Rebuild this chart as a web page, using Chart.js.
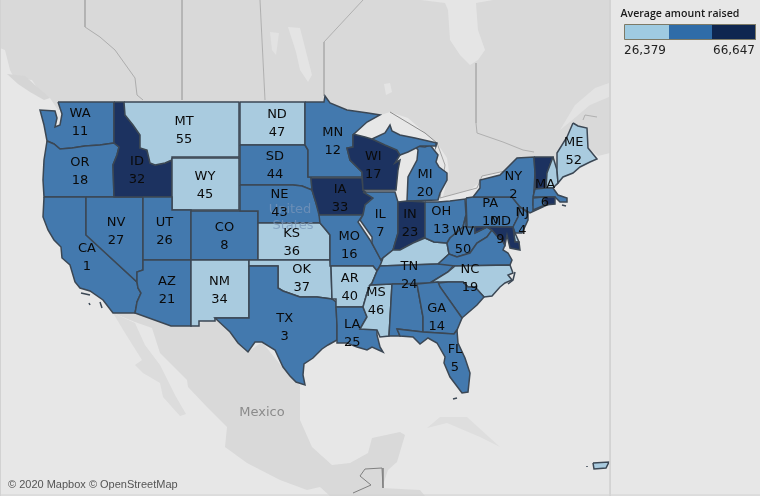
<!DOCTYPE html>
<html>
<head>
<meta charset="utf-8">
<style>
  html, body { margin: 0; padding: 0; background: #e7e7e7; }
  #myChart { display: block; }
</style>
<script src="https://cdn.jsdelivr.net/npm/chart.js@4/dist/chart.umd.js"></script>
</head>
<body>
<canvas id="myChart" width="760" height="496"></canvas>
<script>
// legend values
const legendTitle = 'Average amount raised';
const legendLow = '26,379';
const legendHigh = '66,647';

// state table: code, rank shown on the map, colour band (0 light, 1 mid, 2 dark)
const stateCodes = ['WA','OR','CA','NV','ID','MT','WY','UT','AZ','CO','NM','ND','SD','NE','KS','OK','TX','MN','IA','MO','AR','LA','WI','IL','MS','MI','IN','KY','TN','AL','OH','WV','VA','NC','SC','GA','FL','PA','NY','VT','NH','ME','MA','CT','RI','NJ','DE','MD','PR'];
const stateRanks = [11,18,1,27,32,55,45,26,21,8,34,47,44,43,36,37,3,12,33,16,40,25,17,7,46,20,23,null,24,null,13,50,null,19,null,14,5,10,2,null,null,52,6,null,null,4,null,9,null];
const stateBands = [1,1,1,1,2,0,0,1,1,1,0,0,1,1,0,0,1,1,2,1,0,1,2,1,0,1,2,0,1,1,1,1,1,0,1,1,1,1,1,2,0,0,1,1,2,1,0,2,0];

// outlines, x,y pairs in map units (0-760, 0-496)
const WA = [58,102,114,102,114,143,100,145,85,146,72,148,60,149,54,144,47,141,44,125,40,110,55,111,57,118,55,127,60,125,62,114,60,108];
const OR = [47,141,54,144,60,149,72,148,85,146,100,145,114,143,119,147,117,155,113,165,114,197,44,197,43,180,44,160];
const CA = [44,197,86,197,86,235,137,282,138,288,141,293,137,302,136,308,135,313,113,313,103,300,90,291,80,288,75,282,70,265,62,258,61,247,54,240,48,230,43,217];
const NV = [86,197,143,197,143,270,137,272,137,282,86,235];
const ID = [114,102,124,102,125,115,133,125,140,135,140,148,147,150,150,163,155,165,165,163,172,160,172,197,114,197,113,165,117,155,119,147,114,143];
const MT = [124,102,239,102,239,157,172,157,172,160,165,163,155,165,150,163,147,150,140,148,140,135,133,125,125,115];
const WY = [172,158,239,158,239,210,172,210];
const UT = [143,197,172,197,172,210,191,210,191,260,143,260];
const AZ = [143,260,191,260,191,326,171,326,135,313,136,308,137,302,141,293,138,288,137,282,137,272,143,270];
const CO = [191,211,258,211,258,260,191,260];
const NM = [191,260,249,260,249,318,215,318,215,321,199,321,199,326,191,326];
const ND = [240,102,305,102,305,145,240,145];
const SD = [240,145,305,145,308,150,308,177,311,177,312,190,302,186,293,185,240,185];
const NE = [240,185,293,185,302,186,312,190,316,203,320,215,320,223,258,223,258,211,240,211];
const KS = [258,223,320,223,326,230,330,235,330,260,258,260];
const OK = [249,260,330,260,331,266,332,299,317,297,300,297,283,291,278,288,278,266,249,266];
const TX = [249,266,278,266,278,288,283,291,300,297,317,297,332,299,336,302,337,325,337,340,328,345,322,349,313,358,304,364,303,375,305,385,296,382,290,376,283,367,275,350,262,342,255,342,248,352,238,343,230,332,215,318,249,318];
const MN = [305,102,324,102,325,96,330,103,347,110,368,113,380,115,367,122,355,133,353,135,353,147,347,148,350,160,362,172,362,177,311,177,308,177,308,150,305,145];
const IA = [311,178,362,178,363,190,373,198,365,205,363,215,319,215,316,203,312,190];
const MO = [319,215,363,215,358,222,370,240,380,258,382,262,380,266,377,271,373,266,330,266,330,235,326,230,320,223];
const AR = [331,266,373,266,377,271,372,283,367,293,363,307,336,307,336,299,332,299];
const LA = [336,307,363,307,367,317,360,329,377,329,377,335,380,347,383,352,372,347,367,350,357,347,347,343,337,343,337,325];
const WI = [353,134,365,137,375,140,385,145,397,150,400,155,395,163,400,160,398,170,396,190,363,190,362,172,350,160,347,148,353,147];
const IL = [363,192,395,192,398,202,398,233,393,250,383,258,382,262,372,243,372,237,360,220,363,215,365,205,373,198];
const MS = [370,285,392,284,389,336,380,337,377,330,360,329,367,317,363,307,367,293];
const MI_UP = [372,139,385,133,390,125,392,131,400,135,415,138,437,143,436,146,420,146,408,152,400,155,397,150,385,145];
const MI = [415,146,425,147,430,145,438,155,436,162,439,167,447,173,447,180,440,193,438,200,407,201,408,177,417,160,418,150];
const IN = [398,202,407,201,425,202,425,237,413,243,400,250,393,250,398,233];
const KY = [380,266,383,258,393,250,400,250,413,243,425,238,434,242,447,243,449,254,438,264];
const TN = [380,266,438,264,455,264,448,272,430,283,392,284,370,285,372,283,377,271];
const AL = [392,284,417,284,423,317,423,332,397,329,400,336,389,336];
const OH = [425,202,438,202,450,201,465,199,466,215,463,227,450,238,447,243,434,242,425,238];
const WV = [466,215,466,226,475,227,475,233,487,227,492,230,487,237,477,243,470,253,457,257,449,254,447,243,450,238,463,227];
const VA = [438,264,449,254,457,257,470,253,477,243,487,237,492,230,497,236,502,240,505,245,503,250,508,253,512,260,510,265,455,266];
const NC = [430,283,448,272,455,266,510,265,513,273,508,275,512,280,505,283,500,287,492,296,484,297,475,287,468,287,463,282,448,282,438,282];
const SC = [438,283,448,282,463,282,468,287,475,287,484,297,477,305,462,318,440,287];
const GA = [417,284,438,282,440,287,462,318,457,330,454,334,423,332,423,317];
const FL = [397,329,423,332,454,334,457,330,458,343,465,358,470,373,468,392,462,393,450,377,444,363,445,357,437,343,428,338,420,344,413,337,400,336];
const PA = [466,198,473,197,512,197,520,207,518,217,513,227,467,227];
const NY = [473,197,480,188,480,180,500,175,517,158,534,157,535,173,534,190,533,205,540,207,545,206,530,213,525,210,520,207,512,197];
const VT = [534,157,553,157,547,173,546,188,535,189,535,173];
const NH = [553,157,557,170,558,183,553,188,546,188,547,173];
const ME = [573,123,578,126,587,128,588,148,597,159,590,162,580,167,573,173,563,177,558,183,557,170,557,153,567,137];
const MA = [535,189,546,188,553,188,558,195,567,198,567,202,560,202,555,197,533,197];
const CT = [533,198,544,197,545,205,533,210];
const RI = [544,197,555,197,555,204,545,205];
const NJ = [520,207,528,213,528,220,522,233,515,233,513,227,518,217];
const DE = [513,228,515,233,519,242,515,242];
const MD = [475,227,513,227,515,242,519,242,520,250,510,248,507,235,505,245,502,240,497,236,492,230,487,227,475,233];
const PR = [593,463,609,462,606,468,594,469];
const stateOutlines = [WA,OR,CA,NV,ID,MT,WY,UT,AZ,CO,NM,ND,SD,NE,KS,OK,TX,MN,IA,MO,AR,LA,WI,IL,MS,MI,IN,KY,TN,AL,OH,WV,VA,NC,SC,GA,FL,PA,NY,VT,NH,ME,MA,CT,RI,NJ,DE,MD,PR];

// where each state's two line label sits, same units, same order as stateCodes
const labelX = [80,80,87,116,137,184,205,164.5,167,224.5,219.5,277,275,279.5,291.7,301.7,284.7,332.7,340,349.3,349.7,352.3,373.3,380.3,376,425,410,0,409.3,0,441.3,463,0,470,0,436.7,455,490.3,513.3,0,0,573.7,545,0,0,522.3,0,500.5,0];
const labelY = [123,171.5,257.7,232,170.5,130.5,185.5,232,290.5,236.5,290.5,123.5,165.7,204,242.5,278.7,327.3,141.5,198.7,245.5,287.5,334,165.7,223.3,302,184,223.3,0,275.7,0,220.3,240.7,0,278.7,0,317.7,358.7,212.7,185.7,0,0,151.3,193.3,0,0,221.5,0,231,0];

// land under the states
const canada = [0,0,610,0,610,153,598,156,588,148,560,180,534,157,517,158,505,171,482,176,480,182,470,190,455,194,443,197,449,172,447,158,437,143,425,133,408,118,390,112,375,117,352,135,325,110,58,110,50,98,40,92,32,80,14,78,10,70,5,50,0,48];
const vancouverIsland = [7,74,25,76,35,85,50,98,44,100,30,92,18,84];
const mexico = [113,313,135,322,152,328,160,353,187,380,188,387,207,407,227,427,225,447,247,463,280,480,307,490,320,487,330,496,425,496,420,490,382,488,388,470,397,462,405,435,400,432,372,438,368,453,350,463,332,465,312,447,300,420,300,385,283,368,262,342,248,352,215,318,191,326,171,326,135,313];
const baja = [113,313,135,323,145,345,160,365,175,395,186,414,180,416,163,397,160,383,143,373,135,365,142,360,125,333];
const cuba = [427,428,440,417,467,417,500,447,480,437,447,423];
const jamesBay = [421,0,493,0,476,3,478,30,485,50,478,60,470,65,460,55,450,40,448,10,445,3];
const lakeWinnipeg = [288,27,300,28,312,75,308,82,300,70,296,52];
const lakeManitoba = [270,32,279,33,276,55,272,50];
const lakeNipigon = [384,84,390,83,392,92,386,95];
const stLawrence = [560,130,575,105,595,88,609,83,609,97,590,105,570,122];

// thin boundary lines
const bcAlberta = [85,0,85,27,100,37,115,50,135,78,137,95,143,100];
const albertaSask = [182,0,182,100];
const sasManitoba = [260,0,265,100];
const manitobaOntario = [363,0,324,42,324,96];
const ontarioQuebec = [476,63,476,123,477,133,503,142,523,150,534,152];
const superiorBorder = [390,112,425,133,437,143];
const quebecMaine = [583,120,585,115,597,117];
const huronBorder = [437,143,445,165,440,198,477,188,482,176,505,171];
const guatemala = [382,468,365,469,360,476,371,485,353,493];
const belize = [382,468,383,488];

// small islands and bits of broken coast
const channelIslandA = [81,293,90,295];
const channelIslandB = [89,303,90,305];
const channelIslandC = [100,302,102,308];
const floridaKeys = [453,399,457,398];
const outerBanks = [515,272,513,280,508,284];
const nantucket = [562,205,566,206];
const puertoRicoCay = [587,466,587,467];

const panelLine = [610,0,610,496];
const frameLeft = [0.5,0,0.5,496];
const frameBottom = [0,495,760,495];

// legend blocks
const legendLight = [624.5,24.5,669,24.5,669,39.5,624.5,39.5];
const legendMid = [669,24.5,712,24.5,712,39.5,669,39.5];
const legendDark = [712,24.5,755.5,24.5,755.5,39.5,712,39.5];

const bandColors = ['#a9cbdf', '#4379ae', '#1c3260'];
const borderColor = '#3b4754';

function toPoints(flat) {
    const pts = [];
    for (let i = 0; i < flat.length; i += 2) {
        pts.push({ x: flat[i], y: flat[i + 1] });
    }
    return pts;
}

function area(flat, fill) {
    return {
        data: toPoints(flat.concat(flat.slice(0, 2))),
        showLine: true, pointRadius: 0, borderWidth: 0,
        borderColor: 'transparent', polygonFill: fill
    };
}

function line(flat, color, width) {
    return {
        data: toPoints(flat),
        showLine: true, pointRadius: 0, borderWidth: width || 1, borderColor: color
    };
}

// painted first to last
const layers = [
    area(canada, '#d9d9d9'),
    area(vancouverIsland, '#d5d5d5'),
    area(mexico, '#d9d9d9'),
    area(baja, '#dcdcdc'),
    area(cuba, '#dedede'),
    area(jamesBay, '#e5e5e5'),
    area(lakeWinnipeg, '#e4e4e4'),
    area(lakeManitoba, '#e2e2e2'),
    area(lakeNipigon, '#e4e4e4'),
    area(stLawrence, '#e3e3e3'),
    line(bcAlberta, '#adadad'),
    line(albertaSask, '#b0b0b0'),
    line(sasManitoba, '#b0b0b0'),
    line(manitobaOntario, '#b0b0b0'),
    line(ontarioQuebec, '#b0b0b0'),
    line(superiorBorder, '#8c8c8c'),
    line(quebecMaine, '#b0b0b0'),
    line(huronBorder, '#a4a4a4'),
    line(guatemala, '#808080'),
    line(belize, '#808080')
];

[channelIslandA, channelIslandB, channelIslandC, floridaKeys, outerBanks, nantucket, puertoRicoCay].forEach(bit => {
    layers.push(line(bit, borderColor, 1.5));
});

stateOutlines.forEach((outline, i) => {
    const ds = area(outline, bandColors[stateBands[i]]);
    ds.borderColor = borderColor;
    ds.borderWidth = 1.5;
    layers.push(ds);
    if (stateCodes[i] === 'MI') {
        const up = area(MI_UP, bandColors[1]);
        up.borderColor = borderColor;
        up.borderWidth = 1.5;
        layers.push(up);
    }
});

layers.push(area(legendLight, '#9fcbe1'), area(legendMid, '#2f6ca8'), area(legendDark, '#0f2650'));
layers.push(line([624.5,24.5,755.5,24.5,755.5,39.5,624.5,39.5,624.5,24.5], '#7d7a66'));
layers.push(line(panelLine, '#d2d2d2'), line(frameLeft, '#d2d2d2'), line(frameBottom, '#d2d2d2'));

// chart.js draws the first dataset on top, so hand them over reversed
const datasets = layers.slice().reverse();

// fills each closed outline using the points the scales placed
const polygonFillPlugin = {
    id: 'polygonFill',
    beforeDatasetDraw(chart, args) {
        const fill = chart.data.datasets[args.index].polygonFill;
        if (!fill) return;
        const ctx = chart.ctx;
        const pts = args.meta.data;
        ctx.save();
        ctx.beginPath();
        pts.forEach((p, i) => { if (i) ctx.lineTo(p.x, p.y); else ctx.moveTo(p.x, p.y); });
        ctx.closePath();
        ctx.fillStyle = fill;
        ctx.fill();
        ctx.restore();
    }
};

// all the text on the map
const mapTextPlugin = {
    id: 'mapText',
    afterDatasetsDraw(chart) {
        const ctx = chart.ctx;
        const sx = chart.scales.x;
        const sy = chart.scales.y;
        const put = (text, x, y, font, color, align) => {
            ctx.font = font;
            ctx.fillStyle = color;
            ctx.textAlign = align || 'center';
            ctx.textBaseline = 'middle';
            ctx.fillText(text, sx.getPixelForValue(x), sy.getPixelForValue(y));
        };
        ctx.save();
        put('United', 290, 210, '13px "DejaVu Sans"', 'rgba(120,150,185,0.75)');
        put('States', 293, 226, '13px "DejaVu Sans"', 'rgba(120,150,185,0.75)');
        put('Mexico', 262, 413, '13px "DejaVu Sans"', '#8b8b8b');
        stateCodes.forEach((code, i) => {
            if (stateRanks[i] === null) return;
            put(code, labelX[i], labelY[i] - 9, '13px "DejaVu Sans"', '#0a0a0a');
            put(String(stateRanks[i]), labelX[i], labelY[i] + 9, '13px "DejaVu Sans"', '#0a0a0a');
        });
        put('\u00a9 2020 Mapbox \u00a9 OpenStreetMap', 8, 485, '11px "Liberation Sans"', '#555555', 'left');
        put(legendTitle, 620.5, 14, '600 10.6px "Open Sans"', '#1a1a1a', 'left');
        put(legendLow, 624, 51, '12px "DejaVu Sans"', '#222222', 'left');
        put(legendHigh, 755, 51, '12px "DejaVu Sans"', '#222222', 'right');
        ctx.restore();
    }
};

new Chart(document.getElementById('myChart').getContext('2d'), {
    type: 'scatter',
    data: { datasets },
    plugins: [polygonFillPlugin, mapTextPlugin],
    options: {
        responsive: false,
        animation: false,
        layout: { padding: 0 },
        plugins: { legend: { display: false }, tooltip: { enabled: false } },
        scales: {
            x: { type: 'linear', min: 0, max: 760, display: false },
            y: { type: 'linear', min: 0, max: 496, reverse: true, display: false }
        }
    }
});
</script>
</body>
</html>
